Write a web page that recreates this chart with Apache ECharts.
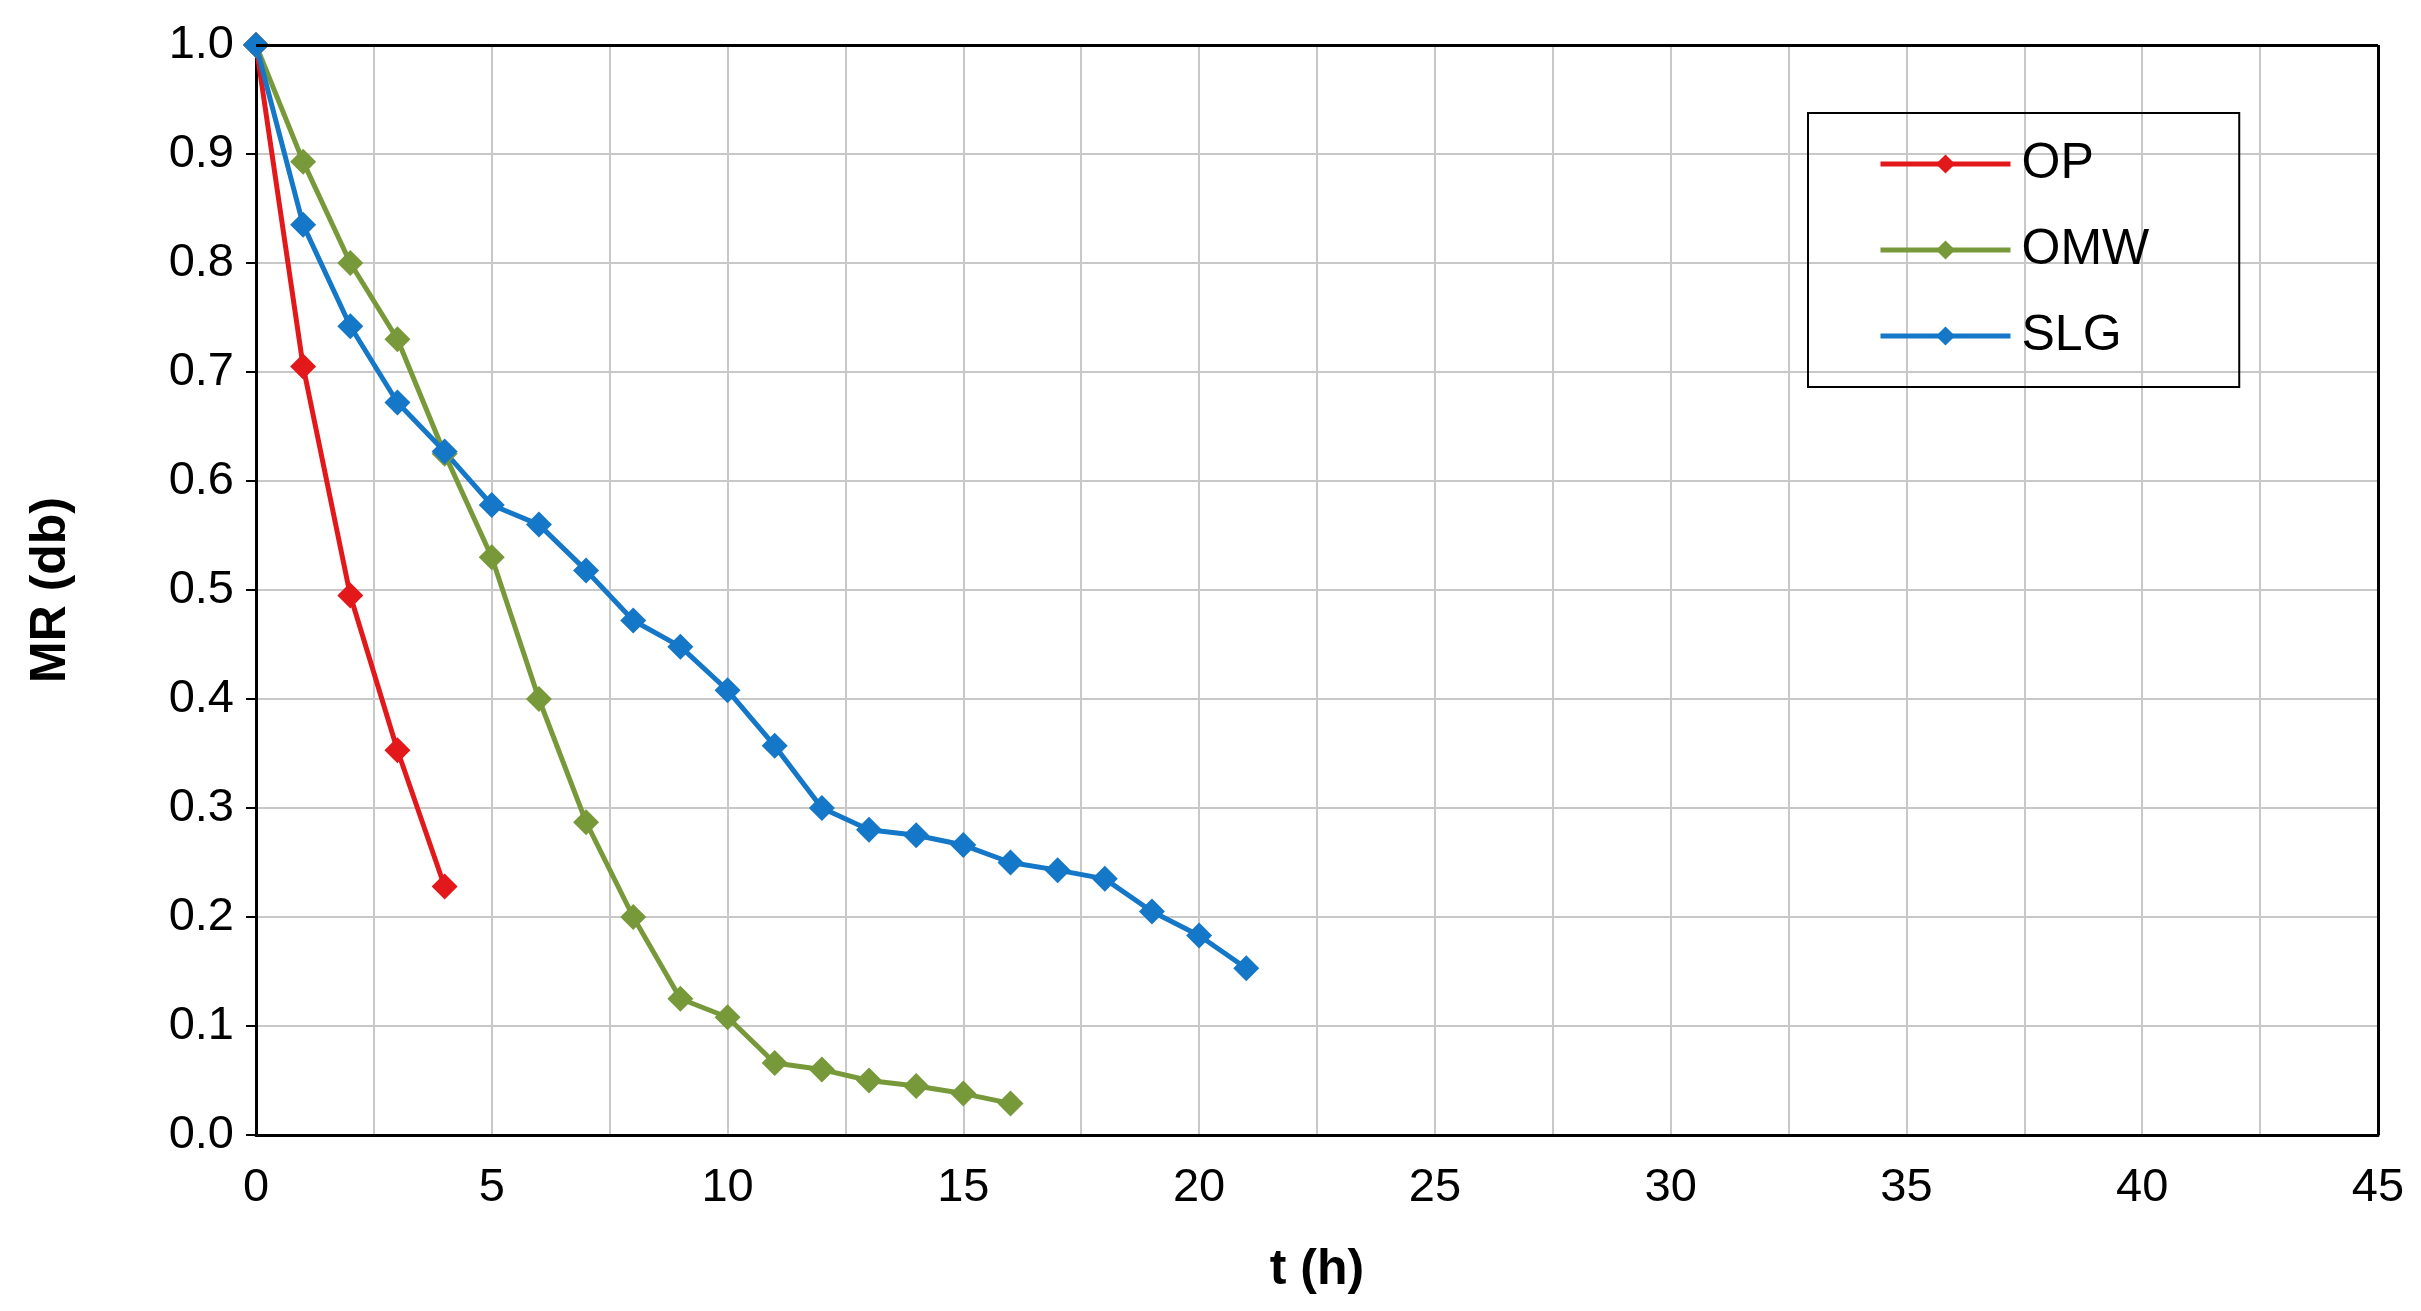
<!DOCTYPE html>
<html>
<head>
<meta charset="utf-8">
<script src="https://cdn.jsdelivr.net/npm/echarts@6/dist/echarts.min.js"></script>
<style>html,body{margin:0;padding:0;background:#fff}#main{width:2421px;height:1311px}</style>
</head>
<body>
<div id="main"></div>
<script>
var tOP = [0, 1, 2, 3, 4];
var mrOP = [1.0, 0.705, 0.495, 0.353, 0.228];
var tOMW = [0, 1, 2, 3, 4, 5, 6, 7, 8, 9, 10, 11, 12, 13, 14, 15, 16];
var mrOMW = [1.0, 0.893, 0.80, 0.73, 0.625, 0.53, 0.40, 0.287, 0.20, 0.125, 0.108, 0.066, 0.06, 0.05, 0.045, 0.038, 0.029];
var tSLG = [0, 1, 2, 3, 4, 5, 6, 7, 8, 9, 10, 11, 12, 13, 14, 15, 16, 17, 18, 19, 20, 21];
var mrSLG = [1.0, 0.835, 0.742, 0.672, 0.627, 0.578, 0.56, 0.518, 0.472, 0.448, 0.408, 0.357, 0.30, 0.28, 0.275, 0.266, 0.25, 0.243, 0.235, 0.205, 0.183, 0.153];

function pairs(xs, ys) {
  return xs.map(function (x, i) { return [x, ys[i]]; });
}
function line(name, color, xs, ys) {
  return {
    name: name, type: 'line', data: pairs(xs, ys),
    symbol: 'diamond', symbolSize: 26,
    lineStyle: { color: color, width: 5 },
    itemStyle: { color: color }
  };
}

var myChart = echarts.init(document.getElementById('main'));
var option = {
  animation: false,
  textStyle: { fontFamily: 'Liberation Sans, Arial, sans-serif' },
  grid: { left: 256, right: 43, top: 45, bottom: 176 },
  legend: {
    orient: 'vertical', left: 1808, top: 113,
    padding: [26, 90, 26, 70],
    itemGap: 36, itemWidth: 130, itemHeight: 24,
    borderColor: '#000', borderWidth: 2,
    lineStyle: { width: 5 },
    textStyle: { fontSize: 50, color: '#000', padding: [0, 0, 0, 6] },
    data: ['OP', 'OMW', 'SLG']
  },
  xAxis: {
    type: 'value', min: 0, max: 45, interval: 2.5,
    name: 't (h)', nameLocation: 'middle', nameGap: 110,
    nameTextStyle: { fontSize: 50, fontWeight: 'bold', color: '#000' },
    axisLine: { lineStyle: { color: '#000', width: 3 } },
    axisTick: { show: false },
    axisLabel: {
      fontSize: 47, color: '#000', margin: 30,
      formatter: function (v) { return v % 5 === 0 ? v : ''; }
    },
    splitLine: { lineStyle: { color: '#c8c8c8', width: 2 } }
  },
  yAxis: {
    type: 'value', min: 0, max: 1, interval: 0.1,
    name: 'MR (db)', nameLocation: 'middle', nameGap: 180,
    nameTextStyle: { fontSize: 50, fontWeight: 'bold', color: '#000' },
    axisLine: { show: true, lineStyle: { color: '#000', width: 3 } },
    axisTick: { show: true, length: 10, lineStyle: { color: '#000', width: 2 } },
    axisLabel: {
      fontSize: 47, color: '#000', margin: 22,
      formatter: function (v) { return v.toFixed(1); }
    },
    splitLine: { lineStyle: { color: '#c8c8c8', width: 2 } }
  },
  series: [
    line('OP', '#e3181b', tOP, mrOP),
    line('OMW', '#77993a', tOMW, mrOMW),
    line('SLG', '#1577c7', tSLG, mrSLG),
    { type: 'line', data: [], markLine: { silent: true, symbol: 'none', label: { show: false },
      lineStyle: { color: '#000', width: 3, type: 'solid' },
      data: [{ yAxis: 1 }, { xAxis: 45 }] } }
  ]
};
myChart.setOption(option);
</script>
</body>
</html>
